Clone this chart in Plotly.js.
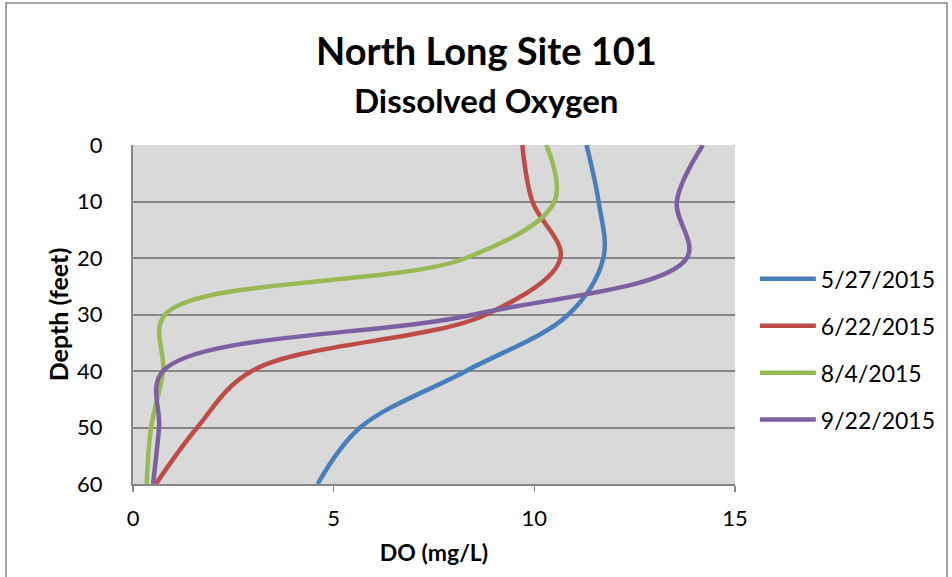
<!DOCTYPE html>
<html>
<head>
<meta charset="utf-8">
<script src="https://cdn.plot.ly/plotly-3.0.1.min.js"></script>
<style>
  html, body { margin: 0; padding: 0; background: #ffffff; }
  #chart { width: 952px; height: 577px; }
</style>
</head>
<body>
<div id="chart"></div>
<script>
// Depth profile sample points (feet)
const depths = [0, 10, 20, 30, 40, 50, 60];

// Dissolved oxygen (mg/L) per sampling date
const do_0527 = [11.3, 11.6, 11.72, 10.85, 8.3, 5.66, 4.6];
const do_0622 = [9.7, 9.95, 10.65, 8.8, 2.96, 1.6, 0.57];
const do_0804 = [10.3, 10.5, 8.3, 0.8, 0.75, 0.45, 0.34];
const do_0922 = [14.2, 13.55, 13.8, 8.5, 0.75, 0.65, 0.5];

const seriesNames = ["5/27/2015", "6/22/2015", "8/4/2015", "9/22/2015"];
const seriesValues = [do_0527, do_0622, do_0804, do_0922];
const seriesColors = ["#4A7EBB", "#BE4B48", "#98B954", "#7D60A0"];

const xTicks = [0, 5, 10, 15];
const yTicks = [0, 10, 20, 30, 40, 50, 60];

const FONT = "Lato, 'Open Sans', sans-serif";

const traces = seriesNames.map((name, i) => ({
  type: "scatter",
  mode: "lines",
  name: name,
  legendgroup: "g" + i,
  x: seriesValues[i],
  y: depths,
  line: { color: seriesColors[i], width: 4.5, shape: "spline", smoothing: 1 },
  hoverinfo: "x+y+name"
}));

const layout = {
  width: 952,
  height: 577,
  paper_bgcolor: "#ffffff",
  plot_bgcolor: "#D9D9D9",
  margin: { l: 133, r: 217, t: 145, b: 93, autoexpand: false },
  font: { family: FONT, color: "#000000", size: 22 },
  title: {
    text: "North Long Site 101",
    font: { family: FONT, size: 38, color: "#000000", weight: "bold" },
    x: 0.511,
    xref: "container",
    xanchor: "center",
    y: 1 - 52 / 577,
    yref: "container",
    yanchor: "middle"
  },
  annotations: [
    {
      text: "Dissolved Oxygen",
      xref: "paper", yref: "paper",
      x: (486 - 133) / 602, xanchor: "center",
      y: 1 + (145 - 100) / 339, yanchor: "middle",
      showarrow: false,
      font: { family: FONT, size: 33, color: "#000000", weight: "bold" }
    }
  ],
  xaxis: {
    range: [0, 15],
    tickvals: xTicks,
    ticktext: xTicks.map(String),
    showgrid: false,
    zeroline: false,
    showline: true,
    linecolor: "#868686",
    linewidth: 2,
    ticks: "outside",
    ticklen: 6,
    tickwidth: 1.5,
    tickcolor: "#868686",
    ticklabelstandoff: 8,
    tickfont: { family: FONT, size: 22, color: "#000000" },
    title: {
      text: "DO (mg/L)",
      font: { family: FONT, size: 23, color: "#000000", weight: "bold" },
      standoff: 14
    },
    fixedrange: true
  },
  yaxis: {
    range: [60, 0],
    tickvals: yTicks,
    ticktext: yTicks.map(String),
    showgrid: true,
    gridcolor: "#868686",
    gridwidth: 2,
    zeroline: false,
    showline: true,
    linecolor: "#868686",
    linewidth: 2,
    ticks: "",
    ticklabelstandoff: 24,
    tickfont: { family: FONT, size: 22, color: "#000000" },
    title: {
      text: "Depth (feet)",
      font: { family: FONT, size: 25, color: "#000000", weight: "bold" },
      standoff: 1
    },
    fixedrange: true
  },
  showlegend: true,
  legend: {
    x: 1.033,
    xanchor: "left",
    y: 0.397,
    yanchor: "middle",
    bgcolor: "rgba(0,0,0,0)",
    borderwidth: 0,
    font: { family: FONT, size: 23, color: "#000000" },
    tracegroupgap: 14,
    itemwidth: 56
  },
  shapes: [
    {
      type: "rect",
      xref: "paper", yref: "paper",
      x0: (6 - 133) / 602, x1: (947 - 133) / 602,
      y0: -0.35, y1: 1 + (145 - 3) / 339,
      line: { color: "#868686", width: 1.5 },
      fillcolor: "rgba(0,0,0,0)",
      layer: "below"
    }
  ]
};

Plotly.newPlot("chart", traces, layout, { displayModeBar: false, staticPlot: true });
</script>
</body>
</html>
